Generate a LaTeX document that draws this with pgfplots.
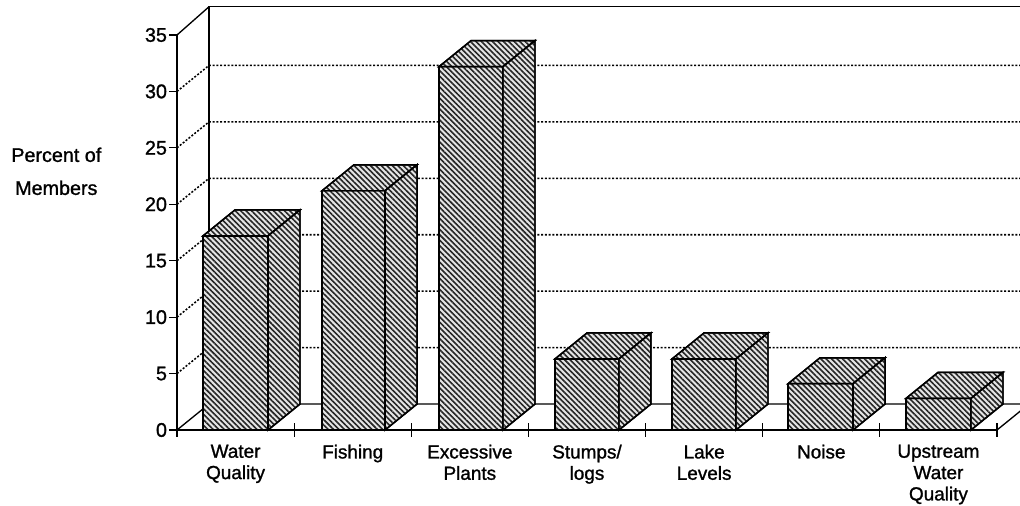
\documentclass[border=0pt]{standalone}
\usepackage{fontspec}
\setmainfont{Liberation Sans}
\newfontfamily\lab[FakeBold=1.2]{Liberation Sans}
\usepackage{pgfplots}
\pgfplotsset{compat=1.18}
\usetikzlibrary{patterns.meta}

% 1 px of the reference = 0.75pt
\tikzset{
  hatch/.style={draw=black, line width=1.1pt, fill=white!90!black,
    postaction={pattern={Lines[angle=-45,distance=2.9pt,line width=1.2pt]},pattern color=black!85}},
}
% left, right, back left, back right, value, back value
\newcommand{\cube}[6]{
  \addplot[hatch] coordinates {(#1,0) (#1,#5) (#2,#5) (#2,0)} --cycle;
  \addplot[hatch] coordinates {(#1,#5) (#3,#6) (#4,#6) (#2,#5)} --cycle;
  \addplot[hatch] coordinates {(#2,0) (#2,#5) (#4,#6) (#4,2.3)} --cycle;
}
\newcommand{\gridlevel}[2]{
  \addplot[black, line width=1.15pt, dash pattern=on 1.5pt off 1.3pt] coordinates {(0,#1) (0.273,#2) (7.3,#2)};
}

\begin{document}
\begin{tikzpicture}
\path[clip, use as bounding box] (-132.75pt,-57pt) rectangle (632.25pt,322.5pt);
\begin{axis}[
    at={(0pt,0pt)}, anchor=origin,
    scale only axis, width=615pt, height=296.25pt,
    xmin=0, xmax=7, ymin=0, ymax=35,
    clip=false,
    axis x line=bottom, axis y line=left,
    axis line style={line width=0.9pt, -},
    xtick={0.5,1.5,2.5,3.5,4.5,5.5,6.5},
    xticklabels={Water\\Quality, Fishing, Excessive\\Plants, Stumps/\\logs, Lake\\Levels, Noise, Upstream\\Water\\Quality},
    minor xtick={0,1,2,3,4,5,6,7},
    ytick={0,5,10,15,20,25,30,35},
    major x tick style={draw=none},
    minor tick length=10pt,
    major tick length=6pt,
    tick style={black, line width=0.8pt},
    xtick align=center,
    ytick align=outside,
    x tick label style={font=\lab\fontsize{14.2}{16}\selectfont, align=center, anchor=north, yshift=-4.5pt},
    y tick label style={font=\lab\fontsize{14.8}{16}\selectfont, xshift=2pt},
    /pgf/number format/assume math mode=true,
]
% back wall
\addplot[black, line width=1pt] coordinates {(0,0) (0.273,2.3) (7.3,2.3)};
\addplot[black, line width=1pt] coordinates {(7,0) (7.273,2.3)};
\addplot[black, line width=1pt] coordinates {(0.273,2.3) (0.273,37.5) (7.3,37.5)};
\addplot[black, line width=1pt] coordinates {(0,35) (0.273,37.5)};
\gridlevel{5}{7.3}
\gridlevel{10}{12.3}
\gridlevel{15}{17.3}
\gridlevel{20}{22.3}
\gridlevel{25}{27.3}
\gridlevel{30}{32.3}
% bars
\cube{0.222}{0.777}{0.495}{1.05}{17.2}{19.5}
\cube{1.238}{1.776}{1.511}{2.049}{21.2}{23.5}
\cube{2.237}{2.783}{2.510}{3.056}{32.2}{34.5}
\cube{3.227}{3.773}{3.500}{4.046}{6.3}{8.6}
\cube{4.226}{4.772}{4.499}{5.045}{6.3}{8.6}
\cube{5.216}{5.771}{5.489}{6.044}{4.1}{6.4}
\cube{6.223}{6.778}{6.496}{7.051}{2.8}{5.1}
\end{axis}
\node[align=center, font=\lab\fontsize{14.8}{24.75}\selectfont] at (-90.5pt,194pt) {Percent of\\Members};
\end{tikzpicture}
\end{document}
